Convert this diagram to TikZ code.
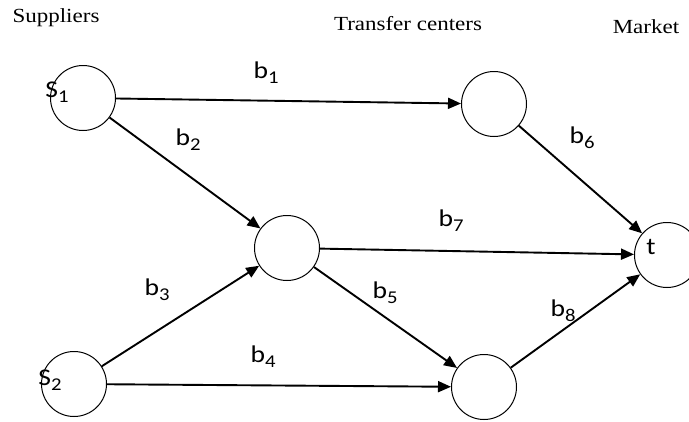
\documentclass[tikz,border=0pt]{standalone}
\usepackage{fontspec}
\setmainfont{Liberation Serif}
\newfontfamily\lblfont{Carlito}
\usetikzlibrary{arrows.meta}
\newcommand\lsub[1]{\raisebox{-0.22em}{\fontsize{18}{18}\selectfont #1}}
\newcommand\wide[1]{\scalebox{1.15}[1]{#1}}
\tikzset{
  vert/.style={circle, draw, line width=1pt, minimum size=65pt, inner sep=0pt},
  edge/.style={line width=1.9pt, -{Triangle[length=13pt,width=11pt]}},
  lbl/.style={font=\lblfont\fontsize{24}{24}\selectfont, inner sep=0pt},
  head/.style={font=\fontsize{20}{20}\selectfont, inner sep=0pt}
}
\begin{document}
\begin{tikzpicture}[x=1pt,y=-1pt]
\useasboundingbox (0,0) rectangle (689,421);
\node[head] (hs) at (56,18) {\wide{Suppliers}};
\node[head] (ht) at (408,24) {\wide{Transfer centers}};
\node[head] (hm) at (646,27) {\wide{Market}};

\node[vert] (s1) at (83,98) {};
\node[vert] (c1) at (494,104) {};
\node[vert] (m) at (287,248) {};
\node[vert] (s2) at (74,384) {};
\node[vert] (c2) at (484,387) {};
\node[vert] (t) at (667,255) {};

\node[lbl] (ls1) at (57,92) {\wide{S\lsub{1}}};
\node[lbl] (ls2) at (50,380) {\wide{S\lsub{2}}};
\node[lbl] (lt) at (651,247) {\wide{t}};

\draw[edge] (s1) -- (c1);
\draw[edge] (s1) -- (m);
\draw[edge] (c1) -- (t);
\draw[edge] (m) -- (t);
\draw[edge] (m) -- (c2);
\draw[edge] (s2) -- (m);
\draw[edge] (s2) -- (c2);
\draw[edge] (c2) -- (t);

\node[lbl] (b1) at (266,73) {\wide{b\lsub{1}}};
\node[lbl] (b2) at (188,140) {\wide{b\lsub{2}}};
\node[lbl] (b6) at (582,138) {\wide{b\lsub{6}}};
\node[lbl] (b7) at (451,221) {\wide{b\lsub{7}}};
\node[lbl] (b3) at (157,290) {\wide{b\lsub{3}}};
\node[lbl] (b5) at (385,293) {\wide{b\lsub{5}}};
\node[lbl] (b8) at (563,311) {\wide{b\lsub{8}}};
\node[lbl] (b4) at (263,357) {\wide{b\lsub{4}}};
\end{tikzpicture}
\end{document}
